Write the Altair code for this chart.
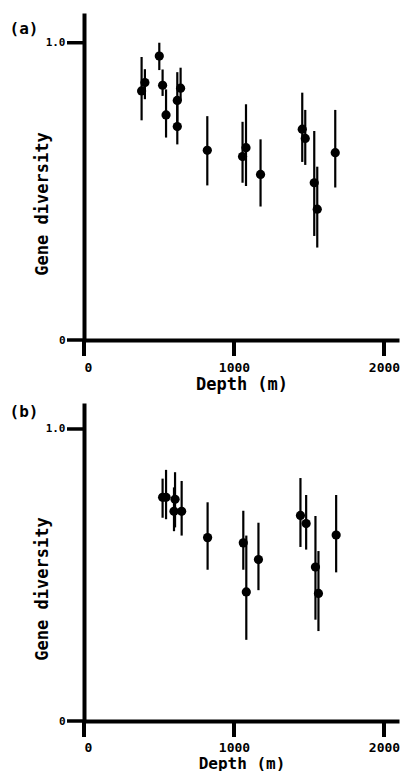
import altair as alt
import pandas as pd

# Panel (a)
a_depth = [384, 406, 502, 524, 547, 622, 622, 644, 822, 1057, 1080, 1177, 1455, 1475, 1535, 1555, 1675]
a_value = [0.838, 0.866, 0.955, 0.857, 0.757, 0.806, 0.718, 0.847, 0.638, 0.617, 0.647, 0.557, 0.709, 0.678, 0.529, 0.440, 0.630]
a_lower = [0.739, 0.810, 0.908, 0.821, 0.681, 0.720, 0.658, 0.804, 0.520, 0.529, 0.518, 0.449, 0.599, 0.589, 0.350, 0.311, 0.513]
a_upper = [0.952, 0.911, 1.000, 0.910, 0.843, 0.901, 0.800, 0.916, 0.753, 0.734, 0.793, 0.675, 0.832, 0.774, 0.703, 0.583, 0.774]

# Panel (b)
b_depth = [524, 547, 607, 600, 651, 824, 1062, 1082, 1163, 1443, 1481, 1543, 1563, 1681]
b_value = [0.766, 0.766, 0.759, 0.718, 0.718, 0.628, 0.610, 0.442, 0.553, 0.704, 0.676, 0.527, 0.437, 0.637]
b_lower = [0.696, 0.691, 0.663, 0.650, 0.635, 0.518, 0.518, 0.278, 0.448, 0.596, 0.587, 0.347, 0.308, 0.509]
b_upper = [0.830, 0.860, 0.852, 0.800, 0.822, 0.749, 0.720, 0.635, 0.679, 0.832, 0.774, 0.702, 0.582, 0.774]

x_ticks = [0, 1000, 2000]
y_ticks = [0, 1.0]
x_title = "Depth (m)"
y_title = "Gene diversity"

MONO = "DejaVu Sans Mono"


def panel(depth, value, lower, upper, tag, height, ymax, tag_y, title_y,
          lab_pad, title_size, title_pad):
    df = pd.DataFrame({"depth": depth, "value": value, "lower": lower, "upper": upper})
    base = alt.Chart(df)
    xs = alt.Scale(domain=[0, 2100], nice=False)
    ys = alt.Scale(domain=[0, ymax], nice=False)
    x = alt.X("depth:Q", scale=xs,
              axis=alt.Axis(values=x_ticks, title=x_title, format="d", labelFontSize=13,
                            titleFontSize=title_size, labelPadding=lab_pad,
                            titlePadding=title_pad, ticks=False, tickSize=0))
    y = alt.Y("value:Q", scale=ys,
              axis=alt.Axis(values=y_ticks, title=None, labelFontSize=11,
                            labelPadding=19, ticks=False, tickSize=0,
                            labelExpr="datum.value == 0 ? '0' : format(datum.value, '.1f')"))
    bars = base.mark_rule(color="black", strokeWidth=2.2).encode(
        x=alt.X("depth:Q", scale=xs), y=alt.Y("lower:Q", scale=ys), y2="upper:Q")
    pts = base.mark_circle(color="black", size=85, opacity=1).encode(x=x, y=y)
    xt = alt.Chart(pd.DataFrame({"t": x_ticks})).mark_rule(color="#000000", strokeWidth=4).encode(
        x=alt.X("t:Q", scale=xs), y=alt.value(height), y2=alt.value(height + 16))
    yt = alt.Chart(pd.DataFrame({"t": y_ticks})).mark_rule(color="#000000", strokeWidth=3.5).encode(
        y=alt.Y("t:Q", scale=ys), x=alt.value(-17), x2=alt.value(0))
    lab = alt.Chart(pd.DataFrame({"t": [tag]})).mark_text(
        font=MONO, fontWeight="bold", fontSize=16, align="center", baseline="middle"
    ).encode(x=alt.value(-60), y=alt.value(tag_y), text="t:N")
    ytitle = alt.Chart(pd.DataFrame({"t": [y_title]})).mark_text(
        font=MONO, fontWeight="bold", fontSize=17, align="center", baseline="middle", angle=270
    ).encode(x=alt.value(-41), y=alt.value(title_y), text="t:N")
    return alt.layer(pts, bars, xt, yt, lab, ytitle).properties(width=315, height=height)


pa = panel(a_depth, a_value, a_lower, a_upper, "(a)", 327, 1.1, 15.5, 191, 21, 17, 2)
pb = panel(b_depth, b_value, b_lower, b_upper, "(b)", 318, 1.089, 9, 186, 20, 16, 1)

chart = alt.vconcat(pa, pb, spacing=11).properties(
    padding={"left": 1, "top": 5, "right": 0, "bottom": 0}
).configure_view(stroke=None).configure_axis(
    grid=False, domainColor="black", domainWidth=4,
    labelFont=MONO, labelFontWeight="bold", labelColor="black",
    titleFont=MONO, titleFontWeight="bold", titleColor="black"
)

chart.save("out.html", embed_options={"renderer": "svg", "actions": False})
